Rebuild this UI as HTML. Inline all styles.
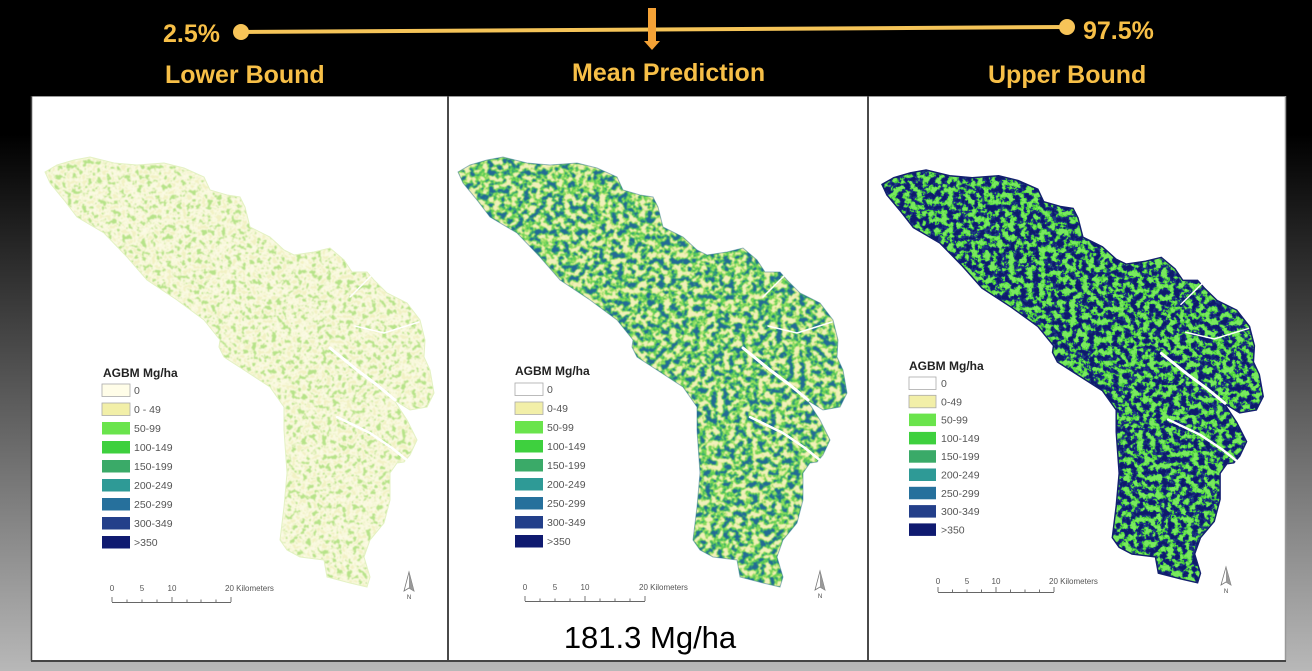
<!DOCTYPE html>
<html><head><meta charset="utf-8">
<style>
html,body{margin:0;padding:0;background:#000;}
svg{display:block;}
.hd{font-family:"Liberation Sans",sans-serif;font-weight:bold;font-size:25px;fill:#f7bf47;}
.lt{font-family:"Liberation Sans",sans-serif;font-size:10.5px;fill:#555;}
.ttl{font-family:"Liberation Sans",sans-serif;font-weight:bold;font-size:12px;fill:#222;}
.sc{font-family:"Liberation Sans",sans-serif;font-size:8px;fill:#555;}
.nn{font-family:"Liberation Sans",sans-serif;font-size:6px;fill:#444;}
</style></head>
<body>
<svg width="1312" height="671" viewBox="0 0 1312 671" xmlns="http://www.w3.org/2000/svg">
<defs>
 <linearGradient id="bg" x1="0" y1="0" x2="0" y2="1">
  <stop offset="0" stop-color="#000"/>
  <stop offset="0.2" stop-color="#000"/>
  <stop offset="1" stop-color="#b8b8b8"/>
 </linearGradient>
 <clipPath id="shape" clipPathUnits="userSpaceOnUse">
  <polygon id="shp" points="458,172 470,165 487,160 503,157 527,163 550,165 577,163 597,168 617,177 623,190 640,195 653,197 658,207 663,227 683,237 697,250 707,255 727,252 743,248 757,260 765,272 780,272 787,280 800,293 820,303 833,320 838,340 837,357 843,370 847,393 840,407 823,410 807,400 820,420 830,440 823,455 817,462 810,463 803,473 803,500 797,523 783,540 777,557 783,577 780,587 763,583 740,577 737,560 713,557 700,550 693,540 697,507 700,473 697,430 697,407 683,387 657,370 637,357 632,347 633,340 617,320 590,300 560,280 540,257 517,233 490,217 477,200 463,183"/>
 </clipPath>
 <filter id="t1" filterUnits="userSpaceOnUse" x="440" y="150" width="420" height="450" color-interpolation-filters="sRGB">
  <feTurbulence type="fractalNoise" baseFrequency="0.2" numOctaves="3" seed="5"/>
  <feColorMatrix type="matrix" values="2.6 0 0 0 -0.8  2.6 0 0 0 -0.8  2.6 0 0 0 -0.8  0 0 0 0 1"/>
  <feComponentTransfer>
   <feFuncR type="discrete" tableValues="0.714 0.902 0.969 0.988 0.984 0.949"/>
   <feFuncG type="discrete" tableValues="0.894 0.949 0.969 0.984 0.980 0.949"/>
   <feFuncB type="discrete" tableValues="0.541 0.753 0.847 0.902 0.875 0.769"/>
  </feComponentTransfer>
  <feGaussianBlur stdDeviation="0.4"/>
 </filter>
 <filter id="t2" filterUnits="userSpaceOnUse" x="440" y="150" width="420" height="450" color-interpolation-filters="sRGB">
  <feTurbulence type="fractalNoise" baseFrequency="0.17" numOctaves="3" seed="11"/>
  <feColorMatrix type="matrix" values="2.6 0 0 0 -0.8  2.6 0 0 0 -0.8  2.6 0 0 0 -0.8  0 0 0 0 1"/>
  <feComponentTransfer>
   <feFuncR type="discrete" tableValues="0.141 0.200 0.384 0.604 0.902 0.949"/>
   <feFuncG type="discrete" tableValues="0.416 0.627 0.816 0.871 0.925 0.945"/>
   <feFuncB type="discrete" tableValues="0.588 0.471 0.322 0.400 0.627 0.737"/>
  </feComponentTransfer>
  <feGaussianBlur stdDeviation="0.4"/>
 </filter>
 <filter id="t3" filterUnits="userSpaceOnUse" x="440" y="150" width="420" height="450" color-interpolation-filters="sRGB">
  <feTurbulence type="fractalNoise" baseFrequency="0.16" numOctaves="3" seed="23"/>
  <feColorMatrix type="matrix" values="2.6 0 0 0 -0.8  2.6 0 0 0 -0.8  2.6 0 0 0 -0.8  0 0 0 0 1"/>
  <feComponentTransfer>
   <feFuncR type="discrete" tableValues="0.055 0.086 0.122 0.267 0.384 0.478"/>
   <feFuncG type="discrete" tableValues="0.102 0.161 0.235 0.769 0.871 0.910"/>
   <feFuncB type="discrete" tableValues="0.431 0.478 0.525 0.243 0.290 0.376"/>
  </feComponentTransfer>
  <feGaussianBlur stdDeviation="0.4"/>
 </filter>
 <g id="inlets" fill="none" stroke="#fff" stroke-linecap="round" stroke-linejoin="round">
  <polyline points="743,348 770,370 790,385 808,400" stroke-width="3"/>
  <polyline points="750,417 783,433 805,448 821,461" stroke-width="2.5"/>
  <polyline points="768,326 797,333 832,322" stroke-width="1.5"/>
  <polyline points="786,274 775,285 763,297" stroke-width="1.5"/>
 </g>
</defs>

<rect x="0" y="0" width="1312" height="671" fill="url(#bg)"/>

<!-- header -->
<line x1="241" y1="32" x2="1067" y2="27" stroke="#f5c458" stroke-width="4"/>
<circle cx="241" cy="32" r="8" fill="#f7c458"/>
<circle cx="1067" cy="27" r="8" fill="#f7c458"/>
<rect x="648" y="8" width="8" height="34" fill="#f4a236"/>
<polygon points="644,41 660,41 652,50" fill="#f4a236"/>
<text class="hd" x="163" y="42">2.5%</text>
<text class="hd" x="1083" y="39">97.5%</text>
<text class="hd" x="165" y="83">Lower Bound</text>
<text class="hd" x="572" y="81">Mean Prediction</text>
<text class="hd" x="988" y="83">Upper Bound</text>

<!-- panels -->
<rect x="31" y="96" width="1255" height="565" fill="#fff"/>
<line x1="31" y1="96.5" x2="1286" y2="96.5" stroke="#999" stroke-width="1"/>
<line x1="31.5" y1="96" x2="31.5" y2="661" stroke="#444" stroke-width="1.5"/>
<line x1="1285.5" y1="96" x2="1285.5" y2="661" stroke="#999" stroke-width="1.5"/>
<line x1="448" y1="96" x2="448" y2="661" stroke="#4a4a4a" stroke-width="2"/>
<line x1="868" y1="96" x2="868" y2="661" stroke="#4a4a4a" stroke-width="2"/>
<line x1="31" y1="661" x2="1286" y2="661" stroke="#444" stroke-width="2"/>

<!-- map 1 -->
<g transform="translate(-413,0)">
 <g clip-path="url(#shape)"><rect x="440" y="150" width="420" height="450" fill="#fff" filter="url(#t1)"/></g>
 <use href="#shp" fill="none" stroke="#e4f2c4" stroke-width="1"/>
 <use href="#inlets"/>
</g>
<!-- map 2 -->
<g>
 <g clip-path="url(#shape)"><rect x="440" y="150" width="420" height="450" fill="#fff" filter="url(#t2)"/></g>
 <use href="#shp" fill="none" stroke="#2d7390" stroke-opacity="0.5" stroke-width="1"/>
 <use href="#inlets"/>
</g>
<!-- map 3 -->
<g transform="translate(882,170) scale(0.98,0.96) translate(-458,-157)">
 <g clip-path="url(#shape)"><rect x="440" y="150" width="420" height="450" fill="#fff" filter="url(#t3)"/></g>
 <use href="#shp" fill="none" stroke="#13206e" stroke-width="1.5"/>
 <use href="#inlets"/>
</g>

<!-- legend 1 -->
<text class="ttl" x="103" y="377">AGBM Mg/ha</text>
<g stroke="#aaa" stroke-width="0.8">
 <rect x="102" y="384" width="28" height="12.5" fill="#fffde8"/>
 <rect x="102" y="403" width="28" height="12.5" fill="#f2efa8"/>
 <rect x="102" y="422" width="28" height="12.5" fill="#6ae44c" stroke="none"/>
 <rect x="102" y="441" width="28" height="12.5" fill="#3ed03e" stroke="none"/>
 <rect x="102" y="460" width="28" height="12.5" fill="#3aaa68" stroke="none"/>
 <rect x="102" y="479" width="28" height="12.5" fill="#2e9a96" stroke="none"/>
 <rect x="102" y="498" width="28" height="12.5" fill="#26709c" stroke="none"/>
 <rect x="102" y="517" width="28" height="12.5" fill="#233f8a" stroke="none"/>
 <rect x="102" y="536" width="28" height="12.5" fill="#0f1a70" stroke="none"/>
</g>
<text class="lt" x="134" y="394">0</text>
<text class="lt" x="134" y="413">0 - 49</text>
<text class="lt" x="134" y="432">50-99</text>
<text class="lt" x="134" y="451">100-149</text>
<text class="lt" x="134" y="470">150-199</text>
<text class="lt" x="134" y="489">200-249</text>
<text class="lt" x="134" y="508">250-299</text>
<text class="lt" x="134" y="527">300-349</text>
<text class="lt" x="134" y="546">&gt;350</text>

<!-- legend 2 -->
<text class="ttl" x="515" y="375">AGBM Mg/ha</text>
<g stroke="#aaa" stroke-width="0.8">
 <rect x="515" y="383" width="28" height="12.5" fill="#ffffff"/>
 <rect x="515" y="402" width="28" height="12.5" fill="#f2efa8"/>
 <rect x="515" y="421" width="28" height="12.5" fill="#6ae44c" stroke="none"/>
 <rect x="515" y="440" width="28" height="12.5" fill="#3ed03e" stroke="none"/>
 <rect x="515" y="459" width="28" height="12.5" fill="#3aaa68" stroke="none"/>
 <rect x="515" y="478" width="28" height="12.5" fill="#2e9a96" stroke="none"/>
 <rect x="515" y="497" width="28" height="12.5" fill="#26709c" stroke="none"/>
 <rect x="515" y="516" width="28" height="12.5" fill="#233f8a" stroke="none"/>
 <rect x="515" y="535" width="28" height="12.5" fill="#0f1a70" stroke="none"/>
</g>
<text class="lt" x="547" y="393">0</text>
<text class="lt" x="547" y="412">0-49</text>
<text class="lt" x="547" y="431">50-99</text>
<text class="lt" x="547" y="450">100-149</text>
<text class="lt" x="547" y="469">150-199</text>
<text class="lt" x="547" y="488">200-249</text>
<text class="lt" x="547" y="507">250-299</text>
<text class="lt" x="547" y="526">300-349</text>
<text class="lt" x="547" y="545">&gt;350</text>

<!-- legend 3 -->
<text class="ttl" x="909" y="370">AGBM Mg/ha</text>
<g stroke="#aaa" stroke-width="0.8">
 <rect x="909" y="377" width="27" height="12.5" fill="#ffffff"/>
 <rect x="909" y="395.3" width="27" height="12.5" fill="#f2efa8"/>
 <rect x="909" y="413.6" width="27" height="12.5" fill="#6ae44c" stroke="none"/>
 <rect x="909" y="431.9" width="27" height="12.5" fill="#3ed03e" stroke="none"/>
 <rect x="909" y="450.2" width="27" height="12.5" fill="#3aaa68" stroke="none"/>
 <rect x="909" y="468.5" width="27" height="12.5" fill="#2e9a96" stroke="none"/>
 <rect x="909" y="486.8" width="27" height="12.5" fill="#26709c" stroke="none"/>
 <rect x="909" y="505.1" width="27" height="12.5" fill="#233f8a" stroke="none"/>
 <rect x="909" y="523.4" width="27" height="12.5" fill="#0f1a70" stroke="none"/>
</g>
<text class="lt" x="941" y="387">0</text>
<text class="lt" x="941" y="405.3">0-49</text>
<text class="lt" x="941" y="423.6">50-99</text>
<text class="lt" x="941" y="441.9">100-149</text>
<text class="lt" x="941" y="460.2">150-199</text>
<text class="lt" x="941" y="478.5">200-249</text>
<text class="lt" x="941" y="496.8">250-299</text>
<text class="lt" x="941" y="515.1">300-349</text>
<text class="lt" x="941" y="533.4">&gt;350</text>

<!-- scale bars -->
<g>
 <text class="sc" x="112" y="591" text-anchor="middle">0</text>
 <text class="sc" x="142" y="591" text-anchor="middle">5</text>
 <text class="sc" x="172" y="591" text-anchor="middle">10</text>
 <text class="sc" x="225" y="591">20 Kilometers</text>
 <path d="M112,602.5H231 M112,602V597 M172,602V597 M231,602V597 M127,602V599.5 M142,602V599.5 M157,602V599.5 M187,602V599.5 M201,602V599.5 M216,602V599.5" stroke="#666" stroke-width="0.9" fill="none"/>
</g>
<g>
 <text class="sc" x="525" y="590" text-anchor="middle">0</text>
 <text class="sc" x="555" y="590" text-anchor="middle">5</text>
 <text class="sc" x="585" y="590" text-anchor="middle">10</text>
 <text class="sc" x="639" y="590">20 Kilometers</text>
 <path d="M525,601.5H645 M525,601V596 M585,601V596 M645,601V596 M540,601V598.5 M555,601V598.5 M570,601V598.5 M600,601V598.5 M615,601V598.5 M630,601V598.5" stroke="#666" stroke-width="0.9" fill="none"/>
</g>
<g>
 <text class="sc" x="938" y="584" text-anchor="middle">0</text>
 <text class="sc" x="967" y="584" text-anchor="middle">5</text>
 <text class="sc" x="996" y="584" text-anchor="middle">10</text>
 <text class="sc" x="1049" y="584">20 Kilometers</text>
 <path d="M938,592.5H1054 M938,592V587 M996,592V587 M1054,592V587 M952.5,592V589.5 M967,592V589.5 M981.5,592V589.5 M1010.5,592V589.5 M1025,592V589.5 M1039.5,592V589.5" stroke="#666" stroke-width="0.9" fill="none"/>
</g>

<!-- north arrows -->
<g stroke="#777" stroke-width="0.8">
 <polygon points="409,572 404,591 409,588 414,591" fill="#fff"/>
 <polygon points="409,572 409,588 414,591" fill="#999" stroke="none"/>
 <polygon points="820,571 815,590 820,587 825,590" fill="#fff"/>
 <polygon points="820,571 820,587 825,590" fill="#999" stroke="none"/>
 <polygon points="1226,567 1221,585 1226,582 1231,585" fill="#fff"/>
 <polygon points="1226,567 1226,582 1231,585" fill="#999" stroke="none"/>
</g>
<text class="nn" x="409" y="599" text-anchor="middle">N</text>
<text class="nn" x="820" y="598" text-anchor="middle">N</text>
<text class="nn" x="1226" y="593" text-anchor="middle">N</text>

<text x="650" y="648" text-anchor="middle" font-family="Liberation Sans, sans-serif" font-size="31" fill="#000">181.3 Mg/ha</text>
</svg>
</body></html>
